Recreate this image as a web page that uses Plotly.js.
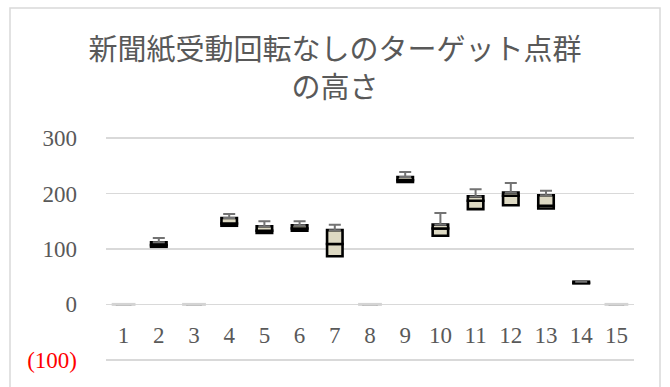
<!DOCTYPE html>
<html>
<head>
<meta charset="utf-8">
<script src="https://cdn.plot.ly/plotly-3.0.1.min.js"></script>
<style>
  html, body { margin: 0; padding: 0; background: #fff; }
  #chart { width: 670px; height: 387px; }
</style>
</head>
<body>
<div id="chart"></div>
<script>
// Target point-cloud heights per sample (box = Q1..median..Q3, whisker up to max)
const categories = ['1','2','3','4','5','6','7','8','9','10','11','12','13','14','15'];
const q1     = [0, 104, 0, 142, 129, 133,  87, 0, 221, 124, 172, 179, 173, 38, 0];
const median = [0, 107, 0, 146, 133, 137, 109, 0, 224, 137, 187, 196, 178, 39, 0];
const q3     = [0, 112, 0, 156, 141, 143, 134, 0, 230, 144, 195, 202, 197, 41, 0];
const maxVal = [0, 120, 0, 163, 150, 150, 144, 0, 239, 165, 208, 219, 205, 41, 0];

const yTickVals = [-100, 0, 100, 200, 300];
const yTickText = ['<span style="color:#ff0000">(100)</span>', '0', '100', '200', '300'];

const boxFill = '#ddd9c3';
const boxLine = { color: '#000000', width: 2.6 };

const lowerBox = {
  type: 'bar', x: categories,
  base: q1,
  y: median.map((m, i) => m - q1[i]),
  marker: { color: boxFill, line: boxLine },
  hoverinfo: 'skip', showlegend: false
};

const upperBox = {
  type: 'bar', x: categories,
  base: median,
  y: q3.map((v, i) => v - median[i]),
  marker: { color: boxFill, line: boxLine },
  error_y: {
    type: 'data', symmetric: false,
    array: maxVal.map((m, i) => m - q3[i]),
    arrayminus: q3.map(() => 0),
    color: '#737373', thickness: 2, width: 6
  },
  hoverinfo: 'skip', showlegend: false
};

// samples with no height are shown as a flat grey dash on the zero line
const emptyMarks = {
  type: 'scatter', mode: 'markers', x: categories,
  y: q3.map((v, i) => (maxVal[i] === 0 ? v : null)),
  marker: { symbol: 'line-ew', size: 17, line: { color: '#d4d4d4', width: 3 } },
  hoverinfo: 'skip', showlegend: false
};

const layout = {
  width: 670, height: 387,
  margin: { l: 106, r: 36, t: 136, b: 25 },
  paper_bgcolor: '#ffffff', plot_bgcolor: '#ffffff',
  barmode: 'overlay', bargap: 0.56,
  title: {
    text: '新聞紙受動回転なしのターゲット点群<br>の高さ',
    font: { family: '"Noto Sans CJK JP", sans-serif', size: 29, color: '#595959' },
    x: 0.5, xanchor: 'center', xref: 'container',
    y: 0.845, yanchor: 'top', yref: 'container'
  },
  xaxis: {
    type: 'category', range: [-0.5, 14.5], autorange: false,
    anchor: 'free', position: 0.19,
    showgrid: false, zeroline: false, showline: false,
    ticks: '', ticklabelstandoff: 0,
    tickfont: { family: '"Liberation Serif", serif', size: 23, color: '#595959' }
  },
  yaxis: {
    range: [-104, 304], autorange: false,
    tickvals: yTickVals, ticktext: yTickText,
    showgrid: true, gridcolor: '#d9d9d9', gridwidth: 1.5,
    zeroline: true, zerolinecolor: '#d9d9d9', zerolinewidth: 1.5,
    showline: false, ticks: '',
    ticklabelstandoff: 28,
    tickfont: { family: '"Liberation Serif", serif', size: 23, color: '#595959' }
  },
  shapes: [{
    type: 'rect', xref: 'paper', yref: 'paper',
    x0: -96 / 528, x1: 1 + 26 / 528,
    y0: -40 / 226, y1: 1 + 128 / 226,
    line: { color: '#d9d9d9', width: 1.5 }, fillcolor: 'rgba(0,0,0,0)', layer: 'below'
  }]
};

Plotly.newPlot('chart', [lowerBox, upperBox, emptyMarks], layout, { staticPlot: true });
</script>
</body>
</html>
